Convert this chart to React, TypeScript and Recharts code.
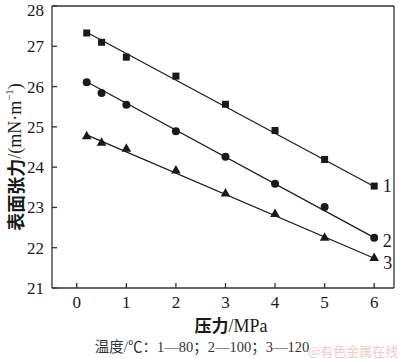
import { ComposedChart, Line, Scatter, XAxis, YAxis, ReferenceLine } from 'recharts'

const pressure = [0.2, 0.5, 1, 2, 3, 4, 5, 6]
const tension80 = [27.33, 27.1, 26.73, 26.26, 25.56, 24.91, 24.19, 23.53]
const tension100 = [26.11, 25.84, 25.55, 24.89, 24.26, 23.59, 23.01, 22.25]
const tension120 = [24.78, 24.62, 24.47, 23.93, 23.36, 22.85, 22.26, 21.76]

// fitted straight lines, read at both ends
const fitX = [0.2, 6]
const fit80 = [27.35, 23.52]
const fit100 = [26.12, 22.25]
const fit120 = [24.8, 21.74]

const xTicks = [0, 1, 2, 3, 4, 5, 6]
const yTicks = [21, 22, 23, 24, 25, 26, 27, 28]
const curveNames = ['1', '2', '3']

const pts = (ys: number[]) => pressure.map((x, i) => ({ x, y: ys[i] }))
const fit = (ys: number[]) => fitX.map((x, i) => ({ x, y: ys[i] }))

const latin = 'Liberation Serif'
const cjk = 'Noto Sans CJK SC'
const ink = '#1a1a1a'

const Square = (p: any) => <rect x={p.cx - 3.5} y={p.cy - 3.5} width={7} height={7} fill={ink} />
const Dot = (p: any) => <circle cx={p.cx} cy={p.cy} r={4} fill={ink} />
const Tri = (p: any) => (
  <path d={`M${p.cx},${p.cy - 5} L${p.cx + 4.8},${p.cy + 3.5} L${p.cx - 4.8},${p.cy + 3.5} Z`} fill={ink} />
)

const endLabel = (name: string, last: number, dx: number, dy: number) => (p: any) =>
  p.index === last ? (
    <text key={name} x={p.x + dx} y={p.y + dy} fontSize={18} fontFamily={latin} fill={ink} dominantBaseline="central" textAnchor="middle">
      {name}
    </text>
  ) : null

export default function App() {
  return (
    <div style={{ position: 'absolute', left: 0, top: 0, width: 400, height: 359, background: '#fff' }}>
      <ComposedChart width={400} height={359} margin={{ top: 6, right: 6, left: 0, bottom: 0 }}>
        <XAxis
          type="number"
          dataKey="x"
          domain={[-0.5, 6.4]}
          ticks={xTicks}
          allowDataOverflow
          height={71}
          tickSize={-5}
          tickMargin={13}
          stroke="#333"
          strokeWidth={1.3}
          tick={{ fontSize: 17, fill: ink, fontFamily: latin }}
          label={(props: any) => {
            const v = props.viewBox
            return (
              <text x={v.x + v.width / 2 + 8} y={v.y + 44} textAnchor="middle" fontSize={18} fill={ink}>
                <tspan fontFamily={cjk} fontWeight="bold" fontSize={17}>压力</tspan>
                <tspan fontFamily={latin}>/MPa</tspan>
              </text>
            )
          }}
        />
        <YAxis
          type="number"
          dataKey="y"
          domain={[21, 28]}
          ticks={yTicks}
          allowDataOverflow
          width={52}
          tickSize={-5}
          tickMargin={13}
          stroke="#333"
          strokeWidth={1.3}
          tick={{ fontSize: 17, fill: ink, fontFamily: latin }}
          label={(props: any) => {
            const v = props.viewBox
            const cx = 15
            const cy = v.y + v.height / 2 + 10
            return (
              <text x={cx} y={cy} transform={`rotate(-90 ${cx} ${cy})`} textAnchor="middle" dominantBaseline="central" fontSize={18} fill={ink}>
                <tspan fontFamily={cjk} fontWeight="bold">表面张力</tspan>
                <tspan fontFamily={latin}>/(mN·m</tspan>
                <tspan fontFamily={latin} baselineShift="super" fontSize={11}>−1</tspan>
                <tspan fontFamily={latin}>)</tspan>
              </text>
            )
          }}
        />
        <ReferenceLine x={6.4} stroke="#333" strokeWidth={1.3} />
        <ReferenceLine y={28} stroke="#333" strokeWidth={1.3} />

        <Line data={fit(fit80)} dataKey="y" stroke={ink} strokeWidth={1.2} dot={false} isAnimationActive={false} label={endLabel(curveNames[0], 1, 13, 0)} />
        <Line data={fit(fit100)} dataKey="y" stroke={ink} strokeWidth={1.2} dot={false} isAnimationActive={false} label={endLabel(curveNames[1], 1, 13, 3)} />
        <Line data={fit(fit120)} dataKey="y" stroke={ink} strokeWidth={1.2} dot={false} isAnimationActive={false} label={endLabel(curveNames[2], 1, 13.5, 5)} />

        <Scatter data={pts(tension80)} dataKey="y" shape={Square} isAnimationActive={false} />
        <Scatter data={pts(tension100)} dataKey="y" shape={Dot} isAnimationActive={false} />
        <Scatter data={pts(tension120)} dataKey="y" shape={Tri} isAnimationActive={false} />
      </ComposedChart>
      <div style={{ position: 'absolute', left: 2, width: 400, top: 338, textAlign: 'center', fontSize: 14.5, fontFamily: `'${latin}', '${cjk}', serif`, color: '#333', lineHeight: '18px' }}>
        温度/℃：1—80；2—100；3—120
      </div>
      <div style={{ position: 'absolute', left: 308, top: 343, fontSize: 13, fontFamily: `'${cjk}', sans-serif`, color: '#f2c9cc', lineHeight: '16px' }}>
        @有色金属在线
      </div>
    </div>
  )
}
